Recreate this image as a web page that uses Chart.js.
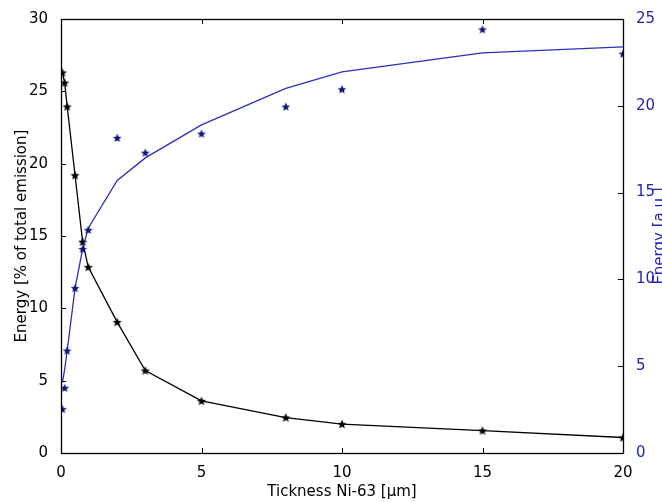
<!DOCTYPE html>
<html>
<head>
<meta charset="utf-8">
<script src="https://cdn.jsdelivr.net/npm/chart.js@4"></script>
<style>
  html, body { margin: 0; padding: 0; background: #fff; overflow: hidden; }
</style>
</head>
<body>
<canvas id="myChart" width="662" height="502"></canvas>
<script>
// thickness of the Ni-63 layer, in micrometres
var thickness = [0.05, 0.13, 0.22, 0.5, 0.77, 0.97, 2, 3, 5, 8, 10, 15, 20]

// left axis: energy in % of total emission (black stars + line)
var energyPct = [26.3, 25.6, 23.95, 19.2, 14.6, 12.85, 9.05, 5.7, 3.6, 2.45, 2.0, 1.55, 1.07]

// right axis: energy in a.u., measured points (blue stars)
var energyAu = [2.53, 3.75, 5.9, 9.5, 11.75, 12.85, 18.15, 17.3, 18.4, 19.95, 20.95, 24.4, 23.0]

// right axis: fitted curve (blue line)
var energyFit = [4.05, 4.8, 5.9, 9.5, 11.75, 12.95, 15.7, 17.0, 18.9, 21.0, 21.95, 23.05, 23.4]

var xTicks = [0, 5, 10, 15, 20]
var leftTicks = [0, 5, 10, 15, 20, 25, 30]
var rightTicks = [0, 5, 10, 15, 20, 25]

var FONT = 'DejaVu Sans'
var BLUE_TEXT = '#2424b4'
var BLUE_LINE = '#2e2ebf'
var BLUE_STAR = '#14147e'

// filled five-pointed star, like matplotlib's '*' marker
function makeStar(color, r) {
  var size = Math.ceil(r * 2 + 2)
  var c = document.createElement('canvas')
  c.width = size
  c.height = size
  var g = c.getContext('2d')
  var cx = size / 2, cy = size / 2 + r * 0.08
  g.beginPath()
  for (var i = 0; i < 10; i++) {
    var rad = i % 2 === 0 ? r : r * 0.45
    var a = -Math.PI / 2 + i * Math.PI / 5
    var px = cx + rad * Math.cos(a), py = cy + rad * Math.sin(a)
    if (i === 0) g.moveTo(px, py)
    else g.lineTo(px, py)
  }
  g.closePath()
  g.fillStyle = color
  g.fill()
  return c
}

function toPoints(xs, ys) {
  return xs.map(function (x, i) { return { x: x, y: ys[i] } })
}

// inward ticks, box frame and the right-hand axis title
var framePlugin = {
  id: 'frame',
  afterDatasetsDraw: function (chart) {
    var ctx = chart.ctx, a = chart.chartArea, s = chart.scales
    var len = 5
    ctx.save()
    ctx.strokeStyle = '#000'
    ctx.lineWidth = 1
    ctx.beginPath()
    xTicks.forEach(function (v) {
      var px = Math.round(s.x.getPixelForValue(v)) + 0.5
      ctx.moveTo(px, a.bottom); ctx.lineTo(px, a.bottom - len)
      ctx.moveTo(px, a.top); ctx.lineTo(px, a.top + len)
    })
    leftTicks.forEach(function (v) {
      var py = Math.round(s.y.getPixelForValue(v)) + 0.5
      ctx.moveTo(a.left, py); ctx.lineTo(a.left + len, py)
    })
    rightTicks.forEach(function (v) {
      var py = Math.round(s.yR.getPixelForValue(v)) + 0.5
      ctx.moveTo(a.right, py); ctx.lineTo(a.right - len, py)
    })
    ctx.stroke()
    ctx.lineWidth = 1.3
    ctx.strokeRect(Math.round(a.left) + 0.5, Math.round(a.top) + 0.5,
      Math.round(a.right - a.left), Math.round(a.bottom - a.top))

    ctx.translate(664, (a.top + a.bottom) / 2)
    ctx.rotate(-Math.PI / 2)
    ctx.fillStyle = BLUE_TEXT
    ctx.font = '15px "' + FONT + '"'
    ctx.textAlign = 'center'
    ctx.textBaseline = 'alphabetic'
    ctx.fillText('Energy [a.u.]', 0, 0)
    ctx.restore()
  }
}

function makeChart() {
  var ctx = document.getElementById('myChart').getContext('2d')
  new Chart(ctx, {
    type: 'scatter',
    data: {
      datasets: [{
        label: 'fit',
        data: toPoints(thickness, energyFit),
        yAxisID: 'yR',
        showLine: true,
        borderColor: BLUE_LINE,
        borderWidth: 1.3,
        pointRadius: 0,
        tension: 0,
        clip: 0,
        order: 1
      }, {
        label: 'measured',
        data: toPoints(thickness, energyAu),
        yAxisID: 'yR',
        showLine: false,
        pointStyle: makeStar(BLUE_STAR, 4.6),
        clip: 0,
        order: 0
      }, {
        label: 'percent',
        data: toPoints(thickness, energyPct),
        yAxisID: 'y',
        showLine: true,
        borderColor: '#000',
        borderWidth: 1.3,
        pointStyle: makeStar('#000', 4.8),
        tension: 0,
        clip: 0,
        order: 2
      }]
    },
    options: {
      responsive: false,
      animation: false,
      events: [],
      layout: { padding: { top: 19, left: 0, right: 0, bottom: 0 } },
      plugins: { legend: { display: false }, tooltip: { enabled: false } },
      scales: {
        x: {
          type: 'linear',
          min: 0, max: 20,
          afterBuildTicks: function (sc) { sc.ticks = xTicks.map(function (v) { return { value: v } }) },
          afterFit: function (sc) { sc.height = 49 },
          grid: { display: false },
          border: { display: false },
          ticks: { color: '#000', font: { family: FONT, size: 15 }, padding: 3, maxRotation: 0 },
          title: { display: true, text: 'Tickness Ni-63 [μm]', color: '#000', font: { family: FONT, size: 15 }, padding: { top: 0, bottom: 1 } }
        },
        y: {
          position: 'left',
          min: 0, max: 30,
          afterBuildTicks: function (sc) { sc.ticks = leftTicks.map(function (v) { return { value: v } }) },
          afterFit: function (sc) { sc.width = 61 },
          grid: { display: false },
          border: { display: false },
          ticks: { color: '#000', font: { family: FONT, size: 15 }, padding: 5 },
          title: { display: true, text: 'Energy [% of total emission]', color: '#000', font: { family: FONT, size: 15 }, padding: { top: 13, bottom: 0 } }
        },
        yR: {
          position: 'right',
          min: 0, max: 25,
          afterBuildTicks: function (sc) { sc.ticks = rightTicks.map(function (v) { return { value: v } }) },
          afterFit: function (sc) { sc.width = 39 },
          grid: { display: false },
          border: { display: false },
          ticks: { color: BLUE_TEXT, font: { family: FONT, size: 15 }, padding: 5 }
        }
      }
    },
    plugins: [framePlugin]
  })
}

makeChart()
</script>
</body>
</html>
